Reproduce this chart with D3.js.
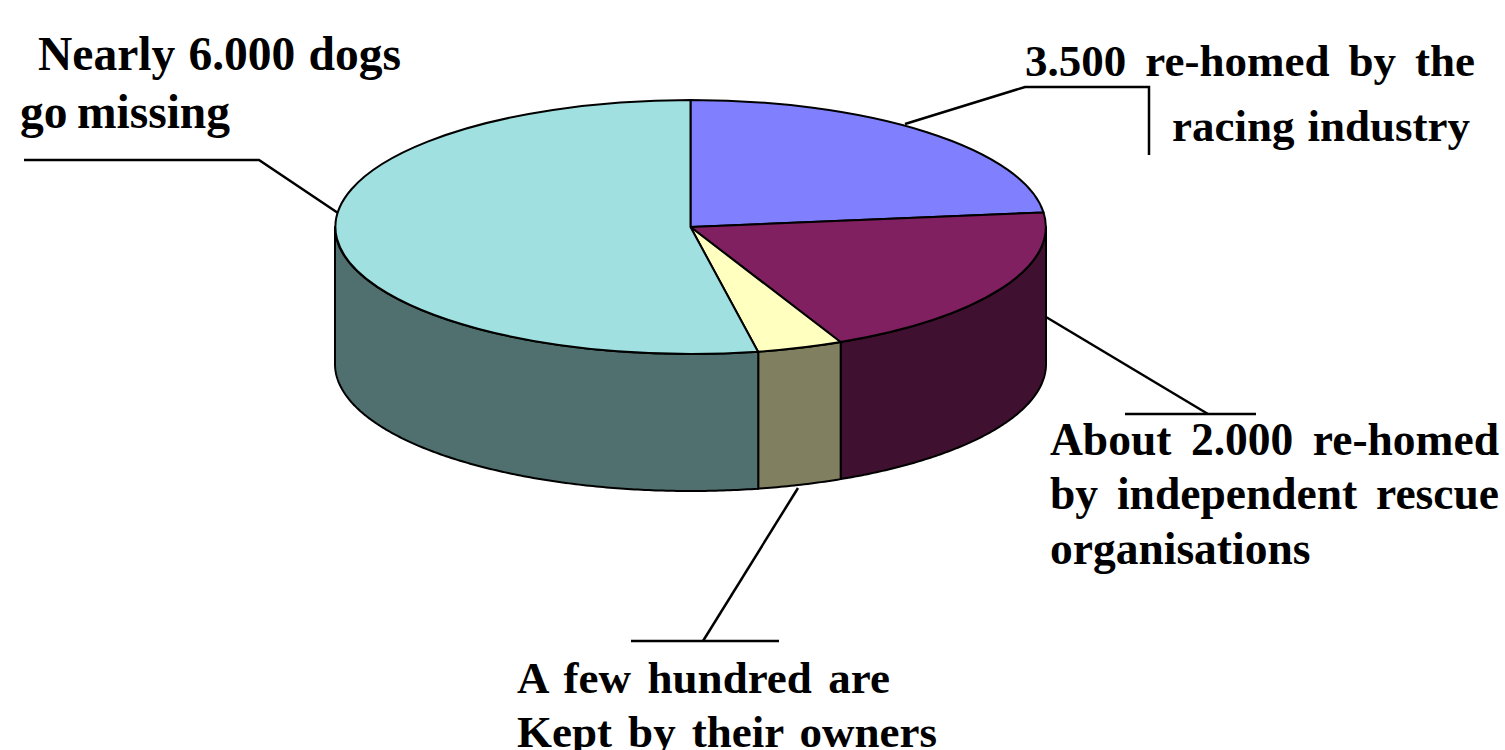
<!DOCTYPE html>
<html>
<head>
<meta charset="utf-8">
<title>Greyhound outcomes</title>
<script src="https://cdn.jsdelivr.net/npm/d3@7"></script>
<style>
  html, body { margin: 0; padding: 0; background: #fff; }
  svg { display: block; }
  text { font-family: "Liberation Serif", serif; font-weight: bold; fill: #000; }
</style>
</head>
<body>
<svg id="chart" width="1505" height="750"></svg>
<script>
// values, clockwise from 12 o'clock
const categories = ['Re-homed by racing industry', 'Re-homed by rescue organisations', 'Kept by owners', 'Go missing'];
const values = [2620, 2250, 440, 6000];
const topColors = ['#8080ff', '#802060', '#ffffc0', '#a0e0e0'];
const sideColors = ['#404080', '#401030', '#808060', '#507070'];

const svg = d3.select('#chart');

// the disc is a unit circle squashed into an ellipse
const x = d3.scaleLinear().domain([-1, 1]).range([335, 1046]);
const y = d3.scaleLinear().domain([-1, 1]).range([100, 354]);
const depth = 137;

const pie = d3.pie().sort(null).value(d => d);
const slices = pie(values);

const arc = d3.arc().innerRadius(0).outerRadius(1);
const line = d3.line().x(d => d[0]).y(d => d[1]);

// outer wall of a slice, only the front half of the disc shows
function sidePath(s) {
  const a0 = Math.max(s.startAngle, Math.PI / 2);
  const a1 = Math.min(s.endAngle, Math.PI * 1.5);
  if (a1 <= a0) return null;
  const angles = d3.range(a0, a1, 0.01).concat([a1]);
  const front = angles.map(a => [x(Math.sin(a)), y(-Math.cos(a))]);
  const back = front.slice().reverse().map(p => [p[0], p[1] + depth]);
  return line(front.concat(back)) + 'Z';
}

svg.append('g').selectAll('path')
  .data(slices.filter(s => sidePath(s)))
  .enter()
  .append('path')
  .attr('d', sidePath)
  .attr('fill', d => sideColors[d.index])
  .attr('stroke', '#000')
  .attr('stroke-width', 2)
  .attr('stroke-linejoin', 'round');

svg.append('g')
  .attr('transform', `translate(${x(0)},${y(0)}) scale(${(x(1) - x(-1)) / 2},${(y(1) - y(-1)) / 2})`)
  .selectAll('path')
  .data(slices)
  .enter()
  .append('path')
  .attr('d', arc)
  .attr('fill', d => topColors[d.index])
  .attr('stroke', '#000')
  .attr('stroke-width', 2)
  .attr('stroke-linejoin', 'round')
  .attr('vector-effect', 'non-scaling-stroke');

// leader lines
const leaders = [
  [[905, 124], [1025, 87], [1149, 87], [1149, 155]],
  [[1046, 317], [1208, 414]],
  [[1125, 414], [1256, 414]],
  [[798, 488], [703, 641]],
  [[631, 641], [779, 641]],
  [[338, 213], [259, 160], [24, 160]]
];

svg.append('g').selectAll('path')
  .data(leaders)
  .enter()
  .append('path')
  .attr('d', line)
  .attr('fill', 'none')
  .attr('stroke', '#000')
  .attr('stroke-width', 2.5);

// text lines, stretched to the reference's justified widths
const labels = [
  { text: 'Nearly 6.000 dogs', left: 38, right: 401, base: 70, size: 47.5 },
  { text: 'go missing', left: 20, right: 230, base: 128, size: 47.5 },
  { text: '3.500 re-homed by the', left: 1025, right: 1475, base: 76, size: 45 },
  { text: 'racing industry', left: 1172, right: 1470, base: 141, size: 45 },
  { text: 'About 2.000 re-homed', left: 1050, right: 1499, base: 455, size: 45.5 },
  { text: 'by independent rescue', left: 1050, right: 1499, base: 509, size: 45.5 },
  { text: 'organisations', left: 1050, right: 1312, base: 564, size: 45.5 },
  { text: 'A few hundred are', left: 517, right: 890, base: 693, size: 45 },
  { text: 'Kept by their owners', left: 517, right: 937, base: 747, size: 45 }
];

svg.append('g').selectAll('text')
  .data(labels)
  .enter()
  .append('text')
  .attr('x', d => d.left)
  .attr('y', d => d.base)
  .attr('font-size', d => d.size)
  .text(d => d.text)
  .each(function (d) {
    const gaps = d.text.split(' ').length - 1;
    if (gaps > 0) {
      const extra = (d.right - d.left - this.getComputedTextLength()) / gaps;
      d3.select(this).attr('word-spacing', extra);
    }
  });
</script>
</body>
</html>
